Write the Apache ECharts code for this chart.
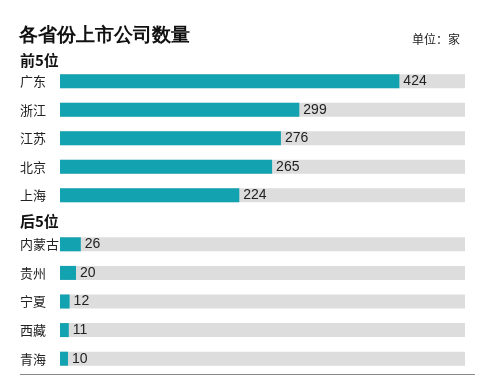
<!DOCTYPE html>
<html><head><meta charset="utf-8">
<script src="https://cdn.jsdelivr.net/npm/echarts@6/dist/echarts.min.js"></script>
<style>html,body{margin:0;padding:0;background:#fff}#c{width:500px;height:381px}</style>
</head><body><div id="c"></div>
<script>
const topCats = ['广东','浙江','江苏','北京','上海'];
const topVals = [424, 299, 276, 265, 224];
const botCats = ['内蒙古','贵州','宁夏','西藏','青海'];
const botVals = [26, 20, 12, 11, 10];
const axisMax = 506;

const font = '"Noto Sans CJK SC", "Liberation Sans", sans-serif';
const barColor = '#13a2b0';
const bg = '#dddddd';

function cat(gi, data) {
  return {
    type: 'category', gridIndex: gi, data: data, inverse: true,
    axisLine: {show: false}, axisTick: {show: false},
    axisLabel: {align: 'left', margin: 40, fontSize: 13, color: '#222', fontFamily: font}
  };
}
function val(gi) {
  return {type: 'value', gridIndex: gi, min: 0, max: axisMax, show: false};
}
function ser(gi, vals) {
  return {
    type: 'bar', xAxisIndex: gi, yAxisIndex: gi, data: vals, barWidth: 14,
    itemStyle: {color: barColor},
    showBackground: true, backgroundStyle: {color: bg},
    label: {show: true, position: 'right', distance: 4, fontSize: 14, color: '#222', fontFamily: '"Liberation Sans", Arial, sans-serif'},
    silent: true, animation: false
  };
}

const chart = echarts.init(document.getElementById('c'), null, {renderer: 'canvas'});
chart.setOption({
  animation: false,
  backgroundColor: '#fff',
  grid: [
    {left: 60, width: 405, top: 67, height: 142.5},
    {left: 60, width: 405, top: 230, height: 143}
  ],
  xAxis: [val(0), val(1)],
  yAxis: [cat(0, topCats), cat(1, botCats)],
  series: [ser(0, topVals), ser(1, botVals)],
  graphic: [
    {type: 'text', left: 19, top: 26, style: {text: '各省份上市公司数量', fontSize: 19, fontWeight: 'bold', fill: '#111', font: 'bold 19px ' + font}},
    {type: 'text', left: 20, top: 53, style: {text: '前5位', fill: '#111', font: 'bold 15px ' + font}},
    {type: 'text', left: 20, top: 214, style: {text: '后5位', fill: '#111', font: 'bold 15px ' + font}},
    {type: 'text', left: 412, top: 33, style: {text: '单位：家', fill: '#222', font: '12px ' + font}},
    {type: 'line', shape: {x1: 20, y1: 374.5, x2: 475, y2: 374.5}, style: {stroke: '#888', lineWidth: 1}}
  ]
});
</script></body></html>
